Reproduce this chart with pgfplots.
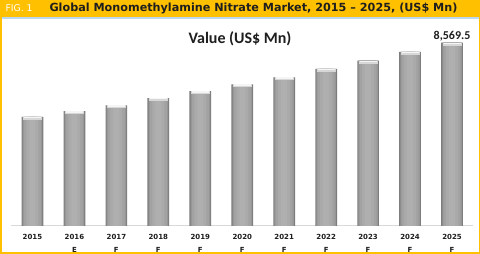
\documentclass[border=0pt]{standalone}
\usepackage{pgfplots}
\pgfplotsset{compat=1.18}
\usepackage{pgfplotstable}
\usepackage{fontspec}
\setmainfont{DejaVu Sans}
\newfontfamily\calib{Carlito}
\definecolor{hdr}{RGB}{255,192,0}
\definecolor{blueline}{RGB}{189,215,238}
\definecolor{txt}{RGB}{30,30,30}
\pgfplotstableread{
x y
0 5096
1 5376
2 5643
3 5984
4 6311
5 6625
6 6952
7 7340
8 7728
9 8135
10 8569.5
}\data
\begin{document}
\begin{tikzpicture}[x=1pt,y=1pt]
\path[use as bounding box] (0,0) rectangle (480,254);
\fill[white] (0,0) rectangle (480,254);
\fill[hdr] (0,237) rectangle (480,254);
\fill[blueline] (1,235) rectangle (479,237);
\draw[hdr,line width=1.5pt] (0.75,0.75) rectangle (479.25,253.25);
\node[anchor=west,text=white,font=\fontsize{9.3}{10}\selectfont] at (2,245.8) {FIG. 1};
\node[anchor=west,text=txt,font=\bfseries\fontsize{11.2}{12}\selectfont] at (46,245.8) {Global Monomethylamine Nitrate Market, 2015 -- 2025, (US\$ Mn)};
\node[text=txt,font=\calib\bfseries\fontsize{16}{18}\selectfont] at (240,215) {Value (US\$ Mn)};
\begin{axis}[
  at={(11.5pt,28pt)}, anchor=south west,
  scale only axis, width=461.5pt, height=200pt,
  xmin=-0.5, xmax=10.5, ymin=0, ymax=9350,
  hide y axis,
  axis x line*=bottom,
  x axis line style={draw=gray!30,line width=1pt,-},
  xtick={0,...,10}, ytick=\empty,
  major tick length=0pt,
  xticklabels={2015\\\strut, 2016\\E, 2017\\F, 2018\\F, 2019\\F, 2020\\F, 2021\\F, 2022\\F, 2023\\F, 2024\\F, 2025\\F},
  xticklabel style={align=center, text=txt, font=\bfseries\fontsize{7}{12.5}\selectfont, yshift=-5pt},
  clip=false,
]
\addplot[ybar, bar width=21.7pt, draw=none, fill={rgb,255:red,125;green,125;blue,125}] table[x=x,y=y] {\data};
\addplot[ybar, bar width=19.5pt, draw=none, fill={rgb,255:red,150;green,150;blue,150}] table[x=x,y=y] {\data};
\addplot[ybar, bar width=17pt, draw=none, fill={rgb,255:red,162;green,162;blue,162}] table[x=x,y=y] {\data};
\addplot[ybar, bar width=12pt, draw=none, fill={rgb,255:red,170;green,170;blue,170}] table[x=x,y=y] {\data};
\addplot[ybar, bar width=6pt, draw=none, fill={rgb,255:red,175;green,175;blue,175}] table[x=x,y=y] {\data};
\addplot[draw=none, mark=none, forget plot,
  error bars/.cd, y dir=minus, y fixed=140,
  error mark=none, error bar style={line width=19pt, color={rgb,255:red,215;green,215;blue,215}}]
  table[x=x,y=y] {\data};
\addplot[draw=none, mark=none, forget plot,
  error bars/.cd, y dir=minus, y fixed=70,
  error mark=none, error bar style={line width=17pt, color={rgb,255:red,245;green,245;blue,245}}]
  table[x=x,y=y] {\data};
\node[anchor=south,text=txt,font=\calib\bfseries\fontsize{12}{13}\selectfont,inner sep=1pt] at (axis cs:10,8569.5) {8,569.5};
\end{axis}
\end{tikzpicture}
\end{document}
